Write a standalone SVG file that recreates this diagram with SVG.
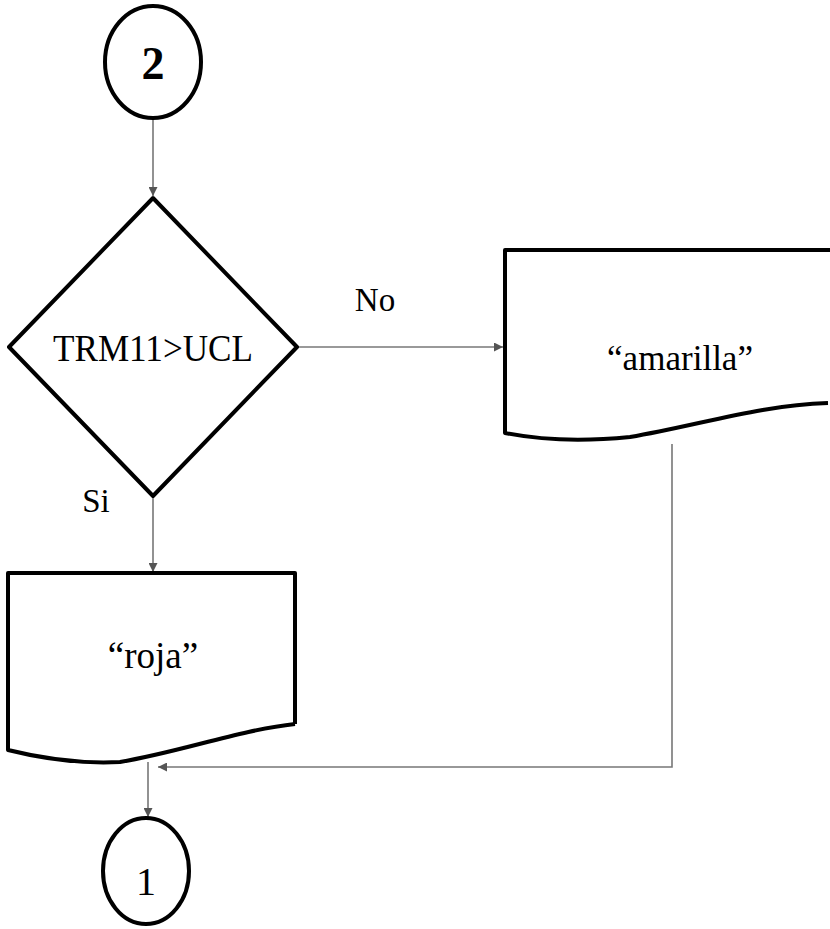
<svg xmlns="http://www.w3.org/2000/svg" width="830" height="929" viewBox="0 0 830 929">
<style>
.shape{fill:none;stroke:#000;stroke-width:4;stroke-linejoin:round}
.conn{fill:none;stroke:#777;stroke-width:1.6}
text{font-family:"Liberation Serif","DejaVu Serif","Times New Roman",serif;fill:#000;text-anchor:middle}
</style>
<defs>
<marker id="ah" viewBox="0 0 10 10" refX="10" refY="5" markerWidth="9" markerHeight="9" markerUnits="userSpaceOnUse" orient="auto">
<path d="M0,0 L10,5 L0,10 z" fill="#555"/>
</marker>
</defs>
<rect width="830" height="929" fill="#fff"/>
<g id="connectors">
<line class="conn" x1="153" y1="118" x2="153" y2="196" marker-end="url(#ah)"/>
<line class="conn" x1="297" y1="347" x2="503" y2="347" marker-end="url(#ah)"/>
<line class="conn" x1="153" y1="497" x2="153" y2="572" marker-end="url(#ah)"/>
<polyline class="conn" points="672,444 672,767 158,767" marker-end="url(#ah)"/>
<line class="conn" x1="148" y1="762" x2="148" y2="817" marker-end="url(#ah)"/>
</g>
<g id="n_conn2">
<ellipse class="shape" cx="153" cy="62" rx="48" ry="56"/>
<text x="153" y="79" font-size="46" font-weight="bold">2</text>
</g>
<g id="n_decision">
<polygon class="shape" points="153,198 297,347 153,496 9,347"/>
<text x="153" y="361" font-size="37" textLength="200" lengthAdjust="spacingAndGlyphs">TRM11&gt;UCL</text>
</g>
<text x="375" y="311" font-size="33">No</text>
<text x="96" y="512" font-size="33">Si</text>
<g id="n_amarilla">
<path class="shape" d="M830,250 L505,250 L505,433 C540,440 580,442 630,437 C700,425 760,405 828,403"/>
<text x="680" y="370" font-size="36" textLength="146" lengthAdjust="spacingAndGlyphs">“amarilla”</text>
</g>
<g id="n_roja">
<path class="shape" d="M295,724 L295,573 L8,573 L8,750 C40,758 80,764 120,762 C180,752 240,730 295,724"/>
<text x="153" y="668" font-size="37">“roja”</text>
</g>
<g id="n_conn1">
<ellipse class="shape" cx="146" cy="871" rx="43" ry="53"/>
<text x="146" y="895" font-size="40">1</text>
</g>
</svg>
